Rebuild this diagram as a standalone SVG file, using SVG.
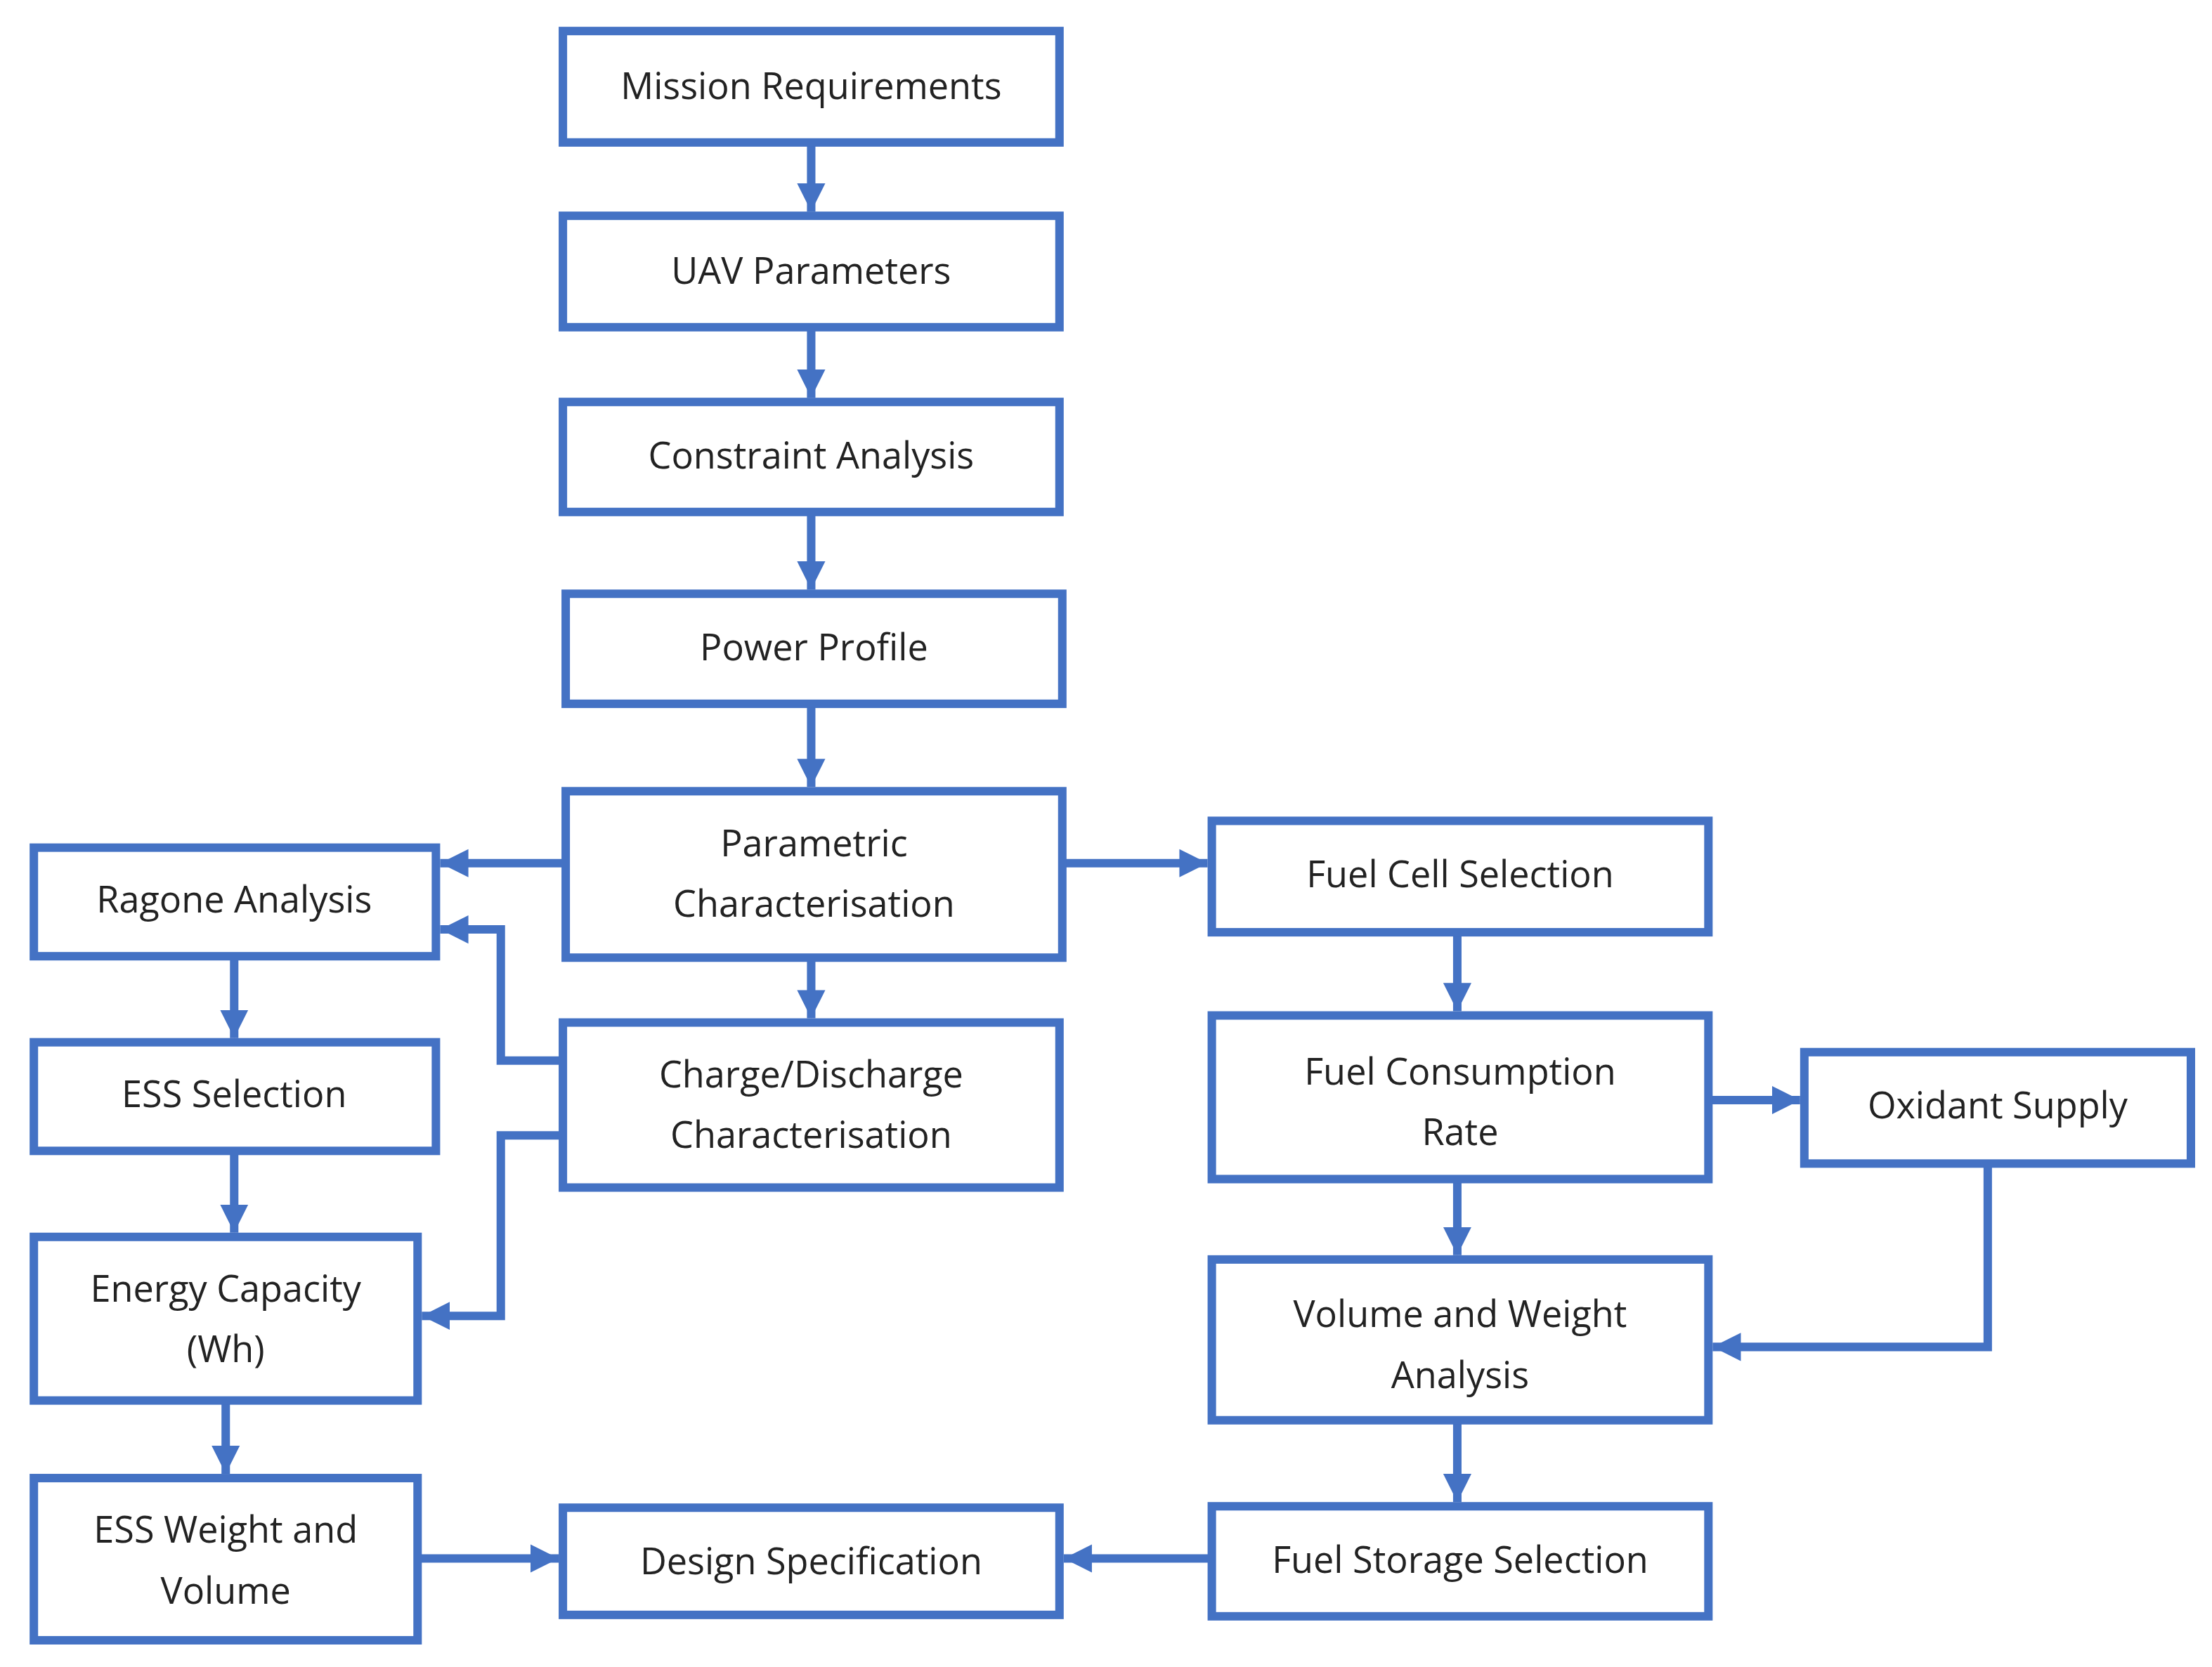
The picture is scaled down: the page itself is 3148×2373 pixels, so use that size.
<svg xmlns="http://www.w3.org/2000/svg" width="3148" height="2373" viewBox="0 0 3148 2373">
<style>
.b{fill:#fff;stroke:#4472C4;stroke-width:6}
.t{font-family:"Open Sans","Noto Sans",sans-serif;font-size:26px;fill:#222;text-anchor:middle}
.c{fill:none;stroke:#4472C4;stroke-width:6;marker-end:url(#a)}
</style>
<defs><marker id="a" viewBox="0 0 10 10" refX="10" refY="5" markerWidth="20" markerHeight="24" markerUnits="userSpaceOnUse" orient="auto"><path d="M0,0L10,5L0,10z" fill="#4472C4"/></marker></defs>
<rect width="3148" height="2373" fill="#fff"/>
<g transform="scale(2.0077)">
<g id="connectors">
<path class="c" d="M575,101V150"/>
<path class="c" d="M575,232V282"/>
<path class="c" d="M575,363V418"/>
<path class="c" d="M575,499V558"/>
<path class="c" d="M575,679V722"/>
<path class="c" d="M401,612H312"/>
<path class="c" d="M753,612H856"/>
<path class="c" d="M399,752H355V659H312"/>
<path class="c" d="M399,805H355V933H299"/>
<path class="c" d="M166,678V736"/>
<path class="c" d="M166,816V874"/>
<path class="c" d="M160,993V1045"/>
<path class="c" d="M296,1105H396"/>
<path class="c" d="M859,1105H754"/>
<path class="c" d="M1033,661V717"/>
<path class="c" d="M1211,780H1276"/>
<path class="c" d="M1033,836V890"/>
<path class="c" d="M1409,825V955H1214"/>
<path class="c" d="M1033,1007V1065"/>
</g>
<g id="n1"><rect class="b" x="399" y="22" width="352" height="79"/><text class="t" x="575" y="70">Mission Requirements</text></g>
<g id="n2"><rect class="b" x="399" y="153" width="352" height="79"/><text class="t" x="575" y="201">UAV Parameters</text></g>
<g id="n3"><rect class="b" x="399" y="285" width="352" height="78"/><text class="t" x="575" y="332">Constraint Analysis</text></g>
<g id="n4"><rect class="b" x="401" y="421" width="352" height="78"/><text class="t" x="577" y="468">Power Profile</text></g>
<g id="n5"><rect class="b" x="401" y="561" width="352" height="118"/><text class="t" x="577" y="607">Parametric</text><text class="t" x="577" y="650">Characterisation</text></g>
<g id="n6"><rect class="b" x="24" y="601" width="285" height="77"/><text class="t" x="166" y="647">Ragone Analysis</text></g>
<g id="n7"><rect class="b" x="859" y="582" width="352" height="79"/><text class="t" x="1035" y="629">Fuel Cell Selection</text></g>
<g id="n8"><rect class="b" x="399" y="725" width="352" height="117"/><text class="t" x="575" y="771">Charge/Discharge</text><text class="t" x="575" y="814">Characterisation</text></g>
<g id="n9"><rect class="b" x="24" y="739" width="285" height="77"/><text class="t" x="166" y="785">ESS Selection</text></g>
<g id="n10"><rect class="b" x="859" y="720" width="352" height="116"/><text class="t" x="1035" y="769">Fuel Consumption</text><text class="t" x="1035" y="812">Rate</text></g>
<g id="n11"><rect class="b" x="1279" y="746" width="274" height="79"/><text class="t" x="1416" y="793">Oxidant Supply</text></g>
<g id="n12"><rect class="b" x="24" y="877" width="272" height="116"/><text class="t" x="160" y="923">Energy Capacity</text><text class="t" x="160" y="966">(Wh)</text></g>
<g id="n13"><rect class="b" x="859" y="893" width="352" height="114"/><text class="t" x="1035" y="941">Volume and Weight</text><text class="t" x="1035" y="984">Analysis</text></g>
<g id="n14"><rect class="b" x="24" y="1048" width="272" height="115"/><text class="t" x="160" y="1094">ESS Weight and</text><text class="t" x="160" y="1137">Volume</text></g>
<g id="n15"><rect class="b" x="399" y="1069" width="352" height="76"/><text class="t" x="575" y="1116">Design Specification</text></g>
<g id="n16"><rect class="b" x="859" y="1068" width="352" height="78"/><text class="t" x="1035" y="1115">Fuel Storage Selection</text></g>
</g>
</svg>
